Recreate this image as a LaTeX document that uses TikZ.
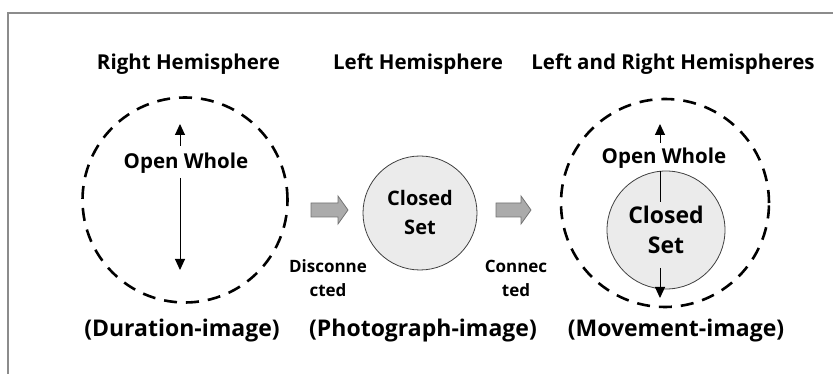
\documentclass[tikz,border=0pt]{standalone}
\usepackage{fontspec}
\setmainfont{Open Sans}
\usetikzlibrary{shapes.geometric,arrows.meta}
\begin{document}
\begin{tikzpicture}[x=1pt,y=-1pt,
  lbl/.style={font=\bfseries\fontsize{20.5}{24}\selectfont, inner sep=0pt},
  botlbl/.style={font=\bfseries\fontsize{23}{26}\selectfont, inner sep=0pt},
  small/.style={font=\bfseries\fontsize{17}{24}\selectfont, inner sep=0pt, align=center},
  dcirc/.style={draw, line width=2.6pt, dash pattern=on 13pt off 9pt, circle, inner sep=0pt},
  ccirc/.style={draw=black!75, fill=black!8, line width=0.8pt, circle, inner sep=0pt, align=center},
  garrow/.style={draw=black!55, fill=black!33, line width=0.8pt, line join=miter},
  varrow/.style={-{Triangle[length=11pt,width=10pt]}, line width=1pt}
]
\useasboundingbox (0,0) rectangle (833,374);
\draw[black!45, line width=1.2pt] (8,374) -- (8,13) -- (833,13);
% titles
\node[lbl] (t1) at (188.5,64) {Right Hemisphere};
\node[lbl] (t2) at (418,64) {Left Hemisphere};
\node[lbl] (t3) at (673,64) {Left and Right Hemispheres};
% left circle
\node[dcirc, minimum size=205pt] (c1) at (185,200) {};
\node[lbl] (ow1) at (186,163) {Open Whole};
\coordinate (a1s) at (180,146);
\coordinate (a1t) at (180,124);
\coordinate (a1u) at (180,178);
\coordinate (a1b) at (180,270);
\draw[varrow] (a1s) -- (a1t);
\draw[varrow] (a1u) -- (a1b);
% middle
\coordinate (g1) at (311,210);
\draw[garrow] (g1) ++(0,-7) -- ++(27,0) -- ++(0,-7) -- ++(10,14) -- ++(-10,14) -- ++(0,-7) -- ++(-27,0) -- cycle;
\node[ccirc, minimum size=114pt, font=\bfseries\fontsize{20}{29}\selectfont] (c2) at (420,213) {Closed\\Set};
\node[small] (d1) at (328,278) {Disconne\\cted};
\coordinate (g2) at (496,210);
\draw[garrow] (g2) ++(0,-7) -- ++(25,0) -- ++(0,-7) -- ++(10,14) -- ++(-10,14) -- ++(0,-7) -- ++(-25,0) -- cycle;
\node[small] (d2) at (516,278) {Connec\\ted};
% right
\node[dcirc, minimum size=208pt] (c3) at (665,203) {};
\node[ccirc, minimum size=118pt, font=\bfseries\fontsize{23}{30}\selectfont] (c4) at (666,230) {Closed\\Set};
\node[lbl] (ow2) at (664,158) {Open Whole};
\coordinate (a2s) at (660,143);
\coordinate (a2t) at (660,124);
\coordinate (a2m) at (660,202);
\coordinate (a2u) at (660,268);
\coordinate (a2b) at (660,298);
\draw[varrow] (a2s) -- (a2t);
\draw[line width=1pt] (c4.north -| a2m) -- (a2m);
\draw[varrow] (a2u) -- (a2b);
% bottom
\node[botlbl] (b1) at (182,331) {(Duration-image)};
\node[botlbl] (b2) at (423,331) {(Photograph-image)};
\node[botlbl] (b3) at (676,331) {(Movement-image)};
\end{tikzpicture}
\end{document}
